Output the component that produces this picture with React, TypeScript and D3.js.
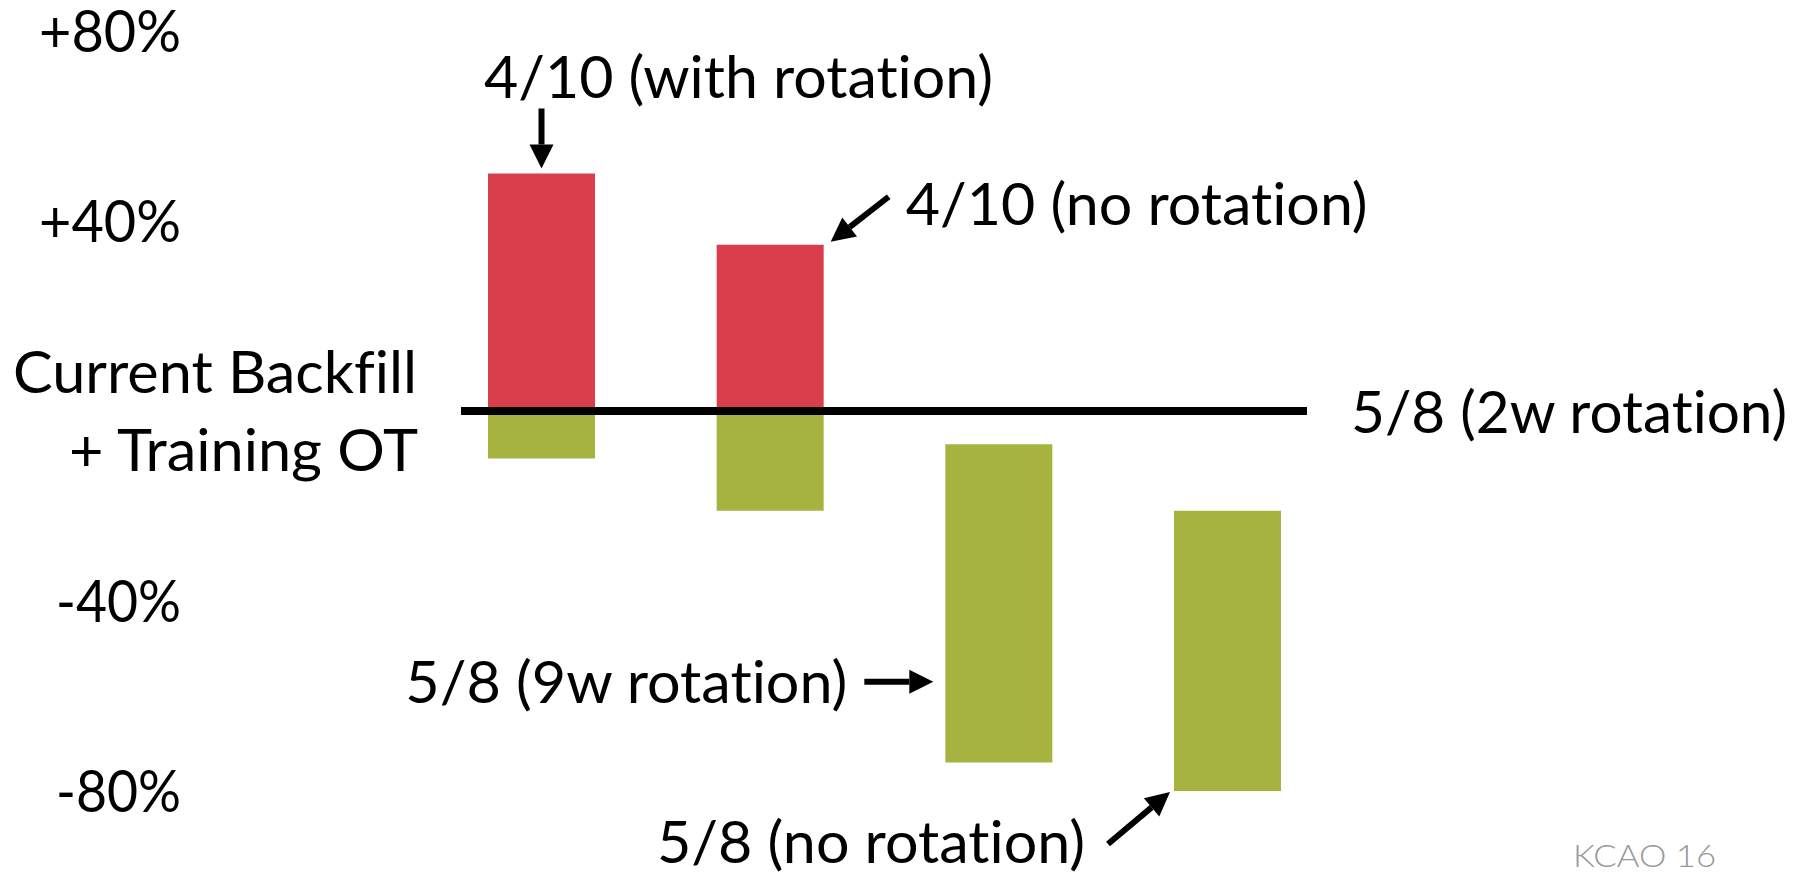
import React, {useEffect, useRef} from "react";
import * as d3 from "d3";

const RedBar: string = "#D93E4C";
const GreenBar: string = "#A6B43F";
const FontFamily: string = "Lato, 'Open Sans', sans-serif";

// bars float between a low and a high value (percent vs current backfill)
const categories: string[] = ["4/10 (with rotation)", "4/10 (no rotation)", "5/8 (9w rotation)", "5/8 (no rotation)"];
const highs: number[] = [50, 35, -7, -21];
const lows: number[] = [-10, -21, -74, -80];

const yTicks: number[] = [80, 40, -40, -80];
const yTickLabels: string[] = ["+80%", "+40%", "-40%", "-80%"];

const baselineLabel: string[] = ["Current Backfill", "+ Training OT"];
const baselineRightLabel: string = "5/8 (2w rotation)";
const footer: string = "KCAO 16";

interface Seg {
  idx: number;
  from: number;
  to: number;
  color: string;
}

function drawArrow(g: d3.Selection<SVGGElement, unknown, null, undefined>, x1: number, y1: number, x2: number, y2: number) {
  const ang = Math.atan2(y2 - y1, x2 - x1);
  const headLen = 24;
  const headHalf = 12;
  const bx = x2 - headLen * Math.cos(ang);
  const by = y2 - headLen * Math.sin(ang);
  g.append("line")
    .attr("x1", x1).attr("y1", y1)
    .attr("x2", bx).attr("y2", by)
    .attr("stroke", "#000")
    .attr("stroke-width", 6);
  const px = -Math.sin(ang) * headHalf;
  const py = Math.cos(ang) * headHalf;
  g.append("path")
    .attr("d", `M${x2},${y2} L${bx + px},${by + py} L${bx - px},${by - py} Z`)
    .attr("fill", "#000");
}

function label(g: d3.Selection<SVGGElement, unknown, null, undefined>, text: string, x: number, y: number, anchor: string, len: number) {
  g.append("text")
    .attr("x", x)
    .attr("y", y)
    .attr("text-anchor", anchor)
    .attr("font-family", FontFamily)
    .attr("font-size", 58)
    .attr("fill", "#000")
    .style("font-variant-ligatures", "none")
    .attr("textLength", len)
    .attr("lengthAdjust", "spacingAndGlyphs")
    .text(text);
}

export default function App(): React.ReactElement {
  const svgRef = useRef<SVGSVGElement>(null);
  const width = 1806;
  const height = 878;

  useEffect(() => {
    if (svgRef.current === null) return;
    const svg = d3.select(svgRef.current);
    svg.selectAll("*").remove();
    const g = svg.append("g");

    const x = d3.scaleBand<string>().domain(categories).range([488, 1281]).paddingInner(0.532).paddingOuter(0);
    const y = d3.scaleLinear().domain([80, -80]).range([31, 791]);
    const bw = x.bandwidth();

    // split each floating bar into a part above and below zero
    const segs: Seg[] = [];
    categories.forEach((c, i) => {
      const posTop = Math.max(highs[i], 0), posBot = Math.max(lows[i], 0);
      const negTop = Math.min(highs[i], 0), negBot = Math.min(lows[i], 0);
      if (posTop > posBot) segs.push({idx: i, from: posBot, to: posTop, color: RedBar});
      if (negTop > negBot) segs.push({idx: i, from: negBot, to: negTop, color: GreenBar});
    });

    g.selectAll(".bar")
      .data(segs)
      .join("rect")
      .attr("class", "bar")
      .attr("x", (d) => x(categories[d.idx]) as number)
      .attr("y", (d) => y(d.to))
      .attr("width", bw)
      .attr("height", (d) => y(d.from) - y(d.to))
      .attr("fill", (d) => d.color);

    // zero line
    const x0 = x(categories[0]) as number;
    const x3 = x(categories[3]) as number;
    g.append("line")
      .attr("x1", x0 - 27)
      .attr("x2", x3 + bw + 26)
      .attr("y1", y(0))
      .attr("y2", y(0))
      .attr("stroke", "#000")
      .attr("stroke-width", 8);

    // y tick labels
    const tickLen = [142, 142, 125, 125];
    g.selectAll(".ytick")
      .data(yTicks)
      .join("text")
      .attr("class", "ytick")
      .attr("x", 181)
      .attr("y", (d) => y(d) + 21)
      .attr("text-anchor", "end")
      .attr("font-family", FontFamily)
      .attr("font-size", 58)
      .attr("textLength", (d, i) => tickLen[i])
      .attr("lengthAdjust", "spacingAndGlyphs")
      .text((d, i) => yTickLabels[i]);

    label(g, baselineLabel[0], 417, y(0) - 18, "end", 404);
    label(g, baselineLabel[1], 418, y(0) + 60, "end", 349);
    label(g, baselineRightLabel, 1351, y(0) + 22, "start", 436);

    // annotations
    const c0 = (x(categories[0]) as number) + bw / 2;
    label(g, categories[0], c0 + 197, 98, "middle", 509);
    drawArrow(g, c0, y(highs[0]) - 65, c0, y(highs[0]) - 5);

    const r1 = (x(categories[1]) as number) + bw;
    label(g, categories[1], r1 + 82, 225, "start", 462);
    drawArrow(g, r1 + 65, y(highs[1]) - 48, r1 + 7, y(highs[1]) - 3);

    const l2 = x(categories[2]) as number;
    label(g, categories[2], l2 - 540, 703, "start", 442);
    drawArrow(g, l2 - 81, y(-57), l2 - 12, y(-57));

    const l3 = x(categories[3]) as number;
    label(g, categories[3], l3 - 517, 863, "start", 428);
    drawArrow(g, l3 - 66, y(lows[3]) + 53, l3 - 4, y(lows[3]) + 1);

    g.append("text")
      .attr("x", 1573)
      .attr("y", 867)
      .attr("font-family", FontFamily)
      .attr("font-size", 32)
      .attr("font-weight", 300)
      .attr("fill", "#999")
      .attr("textLength", 143)
      .attr("lengthAdjust", "spacingAndGlyphs")
      .text(footer);
  }, []);

  return (
    <svg ref={svgRef} width={width} height={height}
         style={{position: "absolute", left: 0, top: 0, background: "#fff"}}></svg>
  );
}
